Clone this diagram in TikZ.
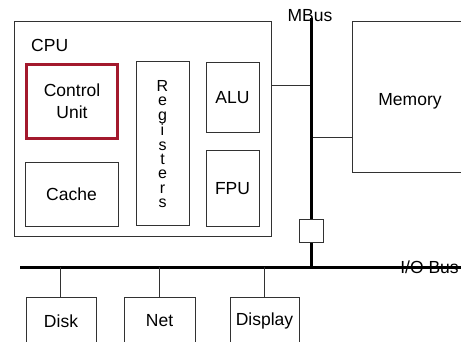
\documentclass[tikz,border=0pt]{standalone}
\usepackage{fontspec}
\setmainfont{Liberation Sans}
\definecolor{cured}{RGB}{163,25,45}
\definecolor{ln}{RGB}{50,50,50}
\begin{document}
\begin{tikzpicture}[x=1pt,y=-1pt,
  box/.style={draw=ln, line width=1pt, fill=white, inner sep=0pt, align=center,
    font=\fontsize{17.5}{22}\selectfont},
  bus/.style={draw=black, line width=3pt},
  wire/.style={draw=ln, line width=1pt},
  lbl/.style={inner sep=0pt, font=\fontsize{17.5}{22}\selectfont}]
\useasboundingbox (0,0) rectangle (461,342);
\begin{scope}
\clip (0,0) rectangle (461,342);
% CPU and parts
\node[box, minimum width=257, minimum height=215] (cpu) at (142.5,129.5) {};
\node[lbl, anchor=west] (cpulbl) at (31,45) {CPU};
\node[box, draw=cured, line width=3pt, minimum width=91, minimum height=74] (cu) at (72,101.5) {Control\\Unit};
\node[box, minimum width=93, minimum height=64] (cache) at (71.5,194.5) {Cache};
\node[box, minimum width=53, minimum height=164, font=\fontsize{16}{14.3}\selectfont] (reg) at (162.5,144) {R\\e\\g\\i\\s\\t\\e\\r\\s};
\node[box, minimum width=53, minimum height=70] (alu) at (232.5,98) {ALU};
\node[box, minimum width=53, minimum height=76] (fpu) at (232.5,189) {FPU};
% Memory
\node[box, minimum width=116, minimum height=151] (mem) at (410,97.5) {};
\node[lbl] (memlbl) at (410,101) {Memory};
% Buses
\coordinate (mtop) at (311.5,18);
\coordinate (junc) at (311.5,267);
\coordinate (iol) at (20,267);
\coordinate (ior) at (461,267);
\draw[wire] (cpu.east |- 0,86) -- (mtop |- 0,86);
\draw[wire] (mem.west |- 0,138) -- (mtop |- 0,138);
\draw[bus] (mtop) -- (junc);
\draw[bus] (iol) -- (ior);
\node[box, minimum width=24, minimum height=23] (bridge) at (311,231.5) {};
% Devices
\node[box, minimum width=70, minimum height=48] (disk) at (61,321) {Disk};
\node[box, minimum width=71, minimum height=48] (net) at (159.5,321) {Net};
\node[box, minimum width=69, minimum height=48] (disp) at (264.5,321) {Display};
\draw[wire] (disk.north -| 60,0) -- (60,267);
\draw[wire] (net.north -| 159,0) -- (159,267);
\draw[wire] (disp.north -| 264,0) -- (264,267);
% Bus labels
\node[lbl] (mbus) at (310,16) {MBus};
\node[lbl] (iobus) at (429.5,267) {I/O Bus};
\end{scope}
\end{tikzpicture}
\end{document}
